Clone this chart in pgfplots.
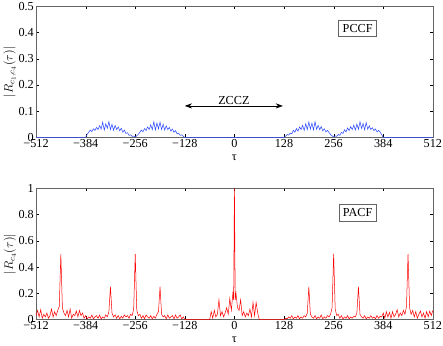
\documentclass[border=0pt]{standalone}
\usepackage{fontspec}
\setmainfont{Liberation Serif}
\usepackage{pgfplots}
\pgfplotsset{compat=1.18}
\usetikzlibrary{arrows.meta}
\definecolor{pccfblue}{RGB}{40,70,255}
\definecolor{framegrey}{RGB}{100,100,100}

\begin{document}
\begin{tikzpicture}[font=\fontsize{12}{13}\selectfont]

\pgfplotsset{
  every axis/.append style={
    scale only axis, width=390pt, height=129pt,
    xmin=-512, xmax=512,
    xtick={-512,-384,-256,-128,0,128,256,384,512},
    xticklabels={−512,−384,−256,−128,0,128,256,384,512},
    axis line style={framegrey}, tick style={black, major tick length=3pt},
    tick align=inside,
    /pgf/number format/assume math mode=true,
    xticklabel style={yshift=-1pt, inner sep=1pt},
    yticklabel style={inner sep=2pt},
    xlabel={τ},
    xlabel style={yshift=-2pt},
    ylabel style={yshift=-3pt},
  },
}

% ---------------- upper: periodic cross-correlation ----------------
\begin{axis}[
  name=top, at={(0,0)}, anchor=north west,
  ymin=0, ymax=0.5, ytick={0,0.1,0.2,0.3,0.4,0.5},
  ylabel={$\left|R_{c_1,c_4}(\tau)\right|$},
]
\addplot[pccfblue, line width=0.5pt] coordinates {
  (-512,0) (-384,0)
  (-380,0.012) (-376,0.02) (-372,0.028) (-368,0.022) (-364,0.033) (-360,0.027)
  (-356,0.038) (-352,0.03) (-348,0.045) (-344,0.032) (-340,0.058) (-336,0.028)
  (-332,0.052) (-328,0.035) (-324,0.06) (-320,0.03) (-316,0.05) (-312,0.027)
  (-308,0.046) (-304,0.03) (-300,0.04) (-296,0.025) (-292,0.035) (-288,0.02)
  (-284,0.028) (-280,0.015) (-276,0.018) (-272,0.008) (-268,0.01) (-264,0.004)
  (-260,0.005) (-256,0.002)
  (-252,0.006) (-248,0.012) (-244,0.02) (-240,0.028) (-236,0.022) (-232,0.034)
  (-228,0.026) (-224,0.04) (-220,0.03) (-216,0.048) (-212,0.03) (-208,0.06)
  (-204,0.028) (-200,0.055) (-196,0.033) (-192,0.058) (-188,0.03) (-184,0.05)
  (-180,0.028) (-176,0.044) (-172,0.03) (-168,0.038) (-164,0.024) (-160,0.032)
  (-156,0.02) (-152,0.026) (-148,0.014) (-144,0.016) (-140,0.008) (-136,0.01)
  (-132,0.004) (-128,0)
  (128,0) (132,0.005) (136,0.011) (140,0.009) (144,0.016) (148,0.014)
  (152,0.027) (156,0.02) (160,0.034) (164,0.024) (168,0.04) (172,0.03)
  (176,0.046) (180,0.027) (184,0.052) (188,0.03) (192,0.059) (196,0.032)
  (200,0.054) (204,0.029) (208,0.06) (212,0.031) (216,0.046) (220,0.03)
  (224,0.041) (228,0.025) (232,0.033) (236,0.021) (240,0.027) (244,0.019)
  (248,0.011) (252,0.006) (256,0.002)
  (260,0.006) (264,0.004) (268,0.011) (272,0.008) (276,0.019) (280,0.015)
  (284,0.029) (288,0.021) (292,0.036) (296,0.026) (300,0.041) (304,0.03)
  (308,0.047) (312,0.028) (316,0.051) (320,0.031) (324,0.06) (328,0.034)
  (332,0.053) (336,0.029) (340,0.057) (344,0.031) (348,0.044) (352,0.03)
  (356,0.037) (360,0.026) (364,0.032) (368,0.021) (372,0.027) (376,0.02)
  (380,0.011) (384,0) (512,0)};
\draw[{Stealth[length=7pt,width=5pt]}-{Stealth[length=7pt,width=5pt]}, line width=0.5pt]
  (axis cs:-128,0.12) -- (axis cs:125,0.12)
  node[midway, above, inner sep=1.5pt] {ZCCZ};
\node[draw=framegrey, fill=white, inner sep=4pt] at (axis cs:318,0.415) {PCCF};
\end{axis}

% ---------------- lower: periodic auto-correlation ----------------
\begin{axis}[
  name=bot, at={(0,-179pt)}, anchor=north west,
  ymin=0, ymax=1, ytick={0,0.2,0.4,0.6,0.8,1},
  ylabel={$\left|R_{c_4}(\tau)\right|$},
]
\addplot[red, line width=0.5pt] coordinates {
  (-512,0.03) (-508,0.07) (-504,0.02) (-500,0.075) (-496,0.01) (-492,0.04)
  (-488,0.02) (-484,0.05) (-480,0.01) (-476,0.03) (-472,0.08) (-468,0.02)
  (-464,0.06) (-460,0.03) (-456,0.07) (-452,0.1) (-448,0.5) (-444,0.09)
  (-440,0.05) (-436,0.03) (-432,0.07) (-428,0.02) (-424,0.08) (-420,0.01)
  (-416,0.04) (-412,0.03) (-408,0.065) (-404,0.02) (-400,0.07) (-396,0.03)
  (-392,0.05) (-388,0.01) (-384,0.03) (-380,0.005) (-376,0.02) (-372,0.01)
  (-368,0.035) (-364,0.005) (-360,0.02) (-356,0.03) (-352,0.01) (-348,0.035)
  (-344,0.005) (-340,0.02) (-336,0.01) (-332,0.035) (-328,0.02) (-324,0.06)
  (-320,0.25) (-316,0.05) (-312,0.02) (-308,0.035) (-304,0.01) (-300,0.03)
  (-296,0.005) (-292,0.025) (-288,0.01) (-284,0.035) (-280,0.02) (-276,0.03)
  (-272,0.01) (-268,0.04) (-264,0.03) (-260,0.08) (-256,0.5) (-252,0.07)
  (-248,0.03) (-244,0.04) (-240,0.01) (-236,0.03) (-232,0.005) (-228,0.035)
  (-224,0.02) (-220,0.01) (-216,0.03) (-212,0.005) (-208,0.025) (-204,0.01)
  (-200,0.04) (-196,0.06) (-192,0.25) (-188,0.04) (-184,0.02) (-180,0.03)
  (-176,0.005) (-172,0.035) (-168,0.01) (-164,0.02) (-160,0.03) (-156,0.005)
  (-152,0.035) (-148,0.01) (-144,0.02) (-140,0.035) (-136,0.005) (-132,0.02)
  (-128,0) (-64,0)
  (-60,0.06) (-56,0.01) (-52,0.07) (-48,0.02) (-44,0.04) (-40,0.15)
  (-36,0.03) (-32,0.06) (-28,0.02) (-24,0.05) (-20,0.09) (-16,0.04)
  (-12,0.16) (-8,0.07) (-4,0.2) (-2,0.15) (0,1) (2,0.15) (4,0.2) (8,0.09)
  (12,0.07) (16,0.15) (20,0.03) (24,0.06) (28,0.02) (32,0.05) (36,0.03)
  (40,0.08) (44,0.02) (48,0.13) (52,0.03) (56,0.13) (60,0.05)
  (64,0) (128,0)
  (132,0.01) (136,0.005) (140,0.02) (144,0.01) (148,0.03) (152,0.005)
  (156,0.02) (160,0.01) (164,0.03) (168,0.005) (172,0.02) (176,0.01)
  (180,0.03) (184,0.02) (188,0.05) (192,0.25) (196,0.04) (200,0.02)
  (204,0.01) (208,0.03) (212,0.005) (216,0.02) (220,0.01) (224,0.035)
  (228,0.005) (232,0.02) (236,0.01) (240,0.03) (244,0.02) (248,0.04)
  (252,0.09) (256,0.5) (260,0.08) (264,0.03) (268,0.04) (272,0.01)
  (276,0.03) (280,0.005) (284,0.02) (288,0.01) (292,0.03) (296,0.005)
  (300,0.02) (304,0.01) (308,0.025) (312,0.02) (316,0.05) (320,0.25)
  (324,0.04) (328,0.02) (332,0.01) (336,0.03) (340,0.005) (344,0.02)
  (348,0.01) (352,0.03) (356,0.01) (360,0.02) (364,0.005) (368,0.03)
  (372,0.01) (376,0.025) (380,0.02) (384,0.05) (388,0.01) (392,0.06)
  (396,0.02) (400,0.055) (404,0.01) (408,0.06) (412,0.02) (416,0.04)
  (420,0.075) (424,0.02) (428,0.05) (432,0.03) (436,0.07) (440,0.04)
  (444,0.1) (448,0.5) (452,0.09) (456,0.04) (460,0.07) (464,0.02)
  (468,0.06) (472,0.01) (476,0.04) (480,0.065) (484,0.02) (488,0.05)
  (492,0.01) (496,0.06) (500,0.02) (504,0.065) (508,0.03) (512,0.07)};
\node[draw=framegrey, fill=white, inner sep=4pt] at (axis cs:318,0.815) {PACF};
\end{axis}

\end{tikzpicture}
\end{document}
